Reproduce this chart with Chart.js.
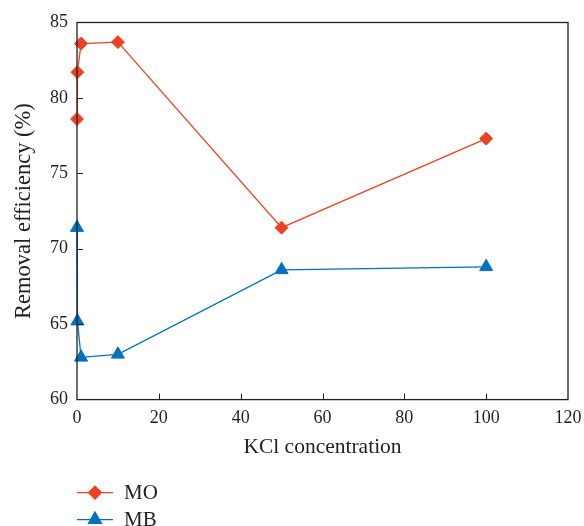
<!DOCTYPE html>
<html>
<head>
<meta charset="utf-8">
<script src="https://cdn.jsdelivr.net/npm/chart.js@4"></script>
<style>
  html, body { margin: 0; padding: 0; background: #ffffff; }
  #wrap { width: 584px; height: 526px; position: relative; }
</style>
</head>
<body>
<div id="wrap"><canvas id="c" width="584" height="526"></canvas></div>
<script>
const kclConcentration = [0, 0.1, 1, 10, 50, 100];
const moValues = [78.6, 81.7, 83.6, 83.7, 71.4, 77.3];
const mbValues = [71.4, 65.2, 62.8, 63.0, 68.6, 68.8];
const seriesNames = ['MO', 'MB'];
const xTicks = [0, 20, 40, 60, 80, 100, 120];
const yTicks = [60, 65, 70, 75, 80, 85];
const xTitle = 'KCl concentration';
const yTitle = 'Removal efficiency (%)';

const RED = '#EE4124';
const BLUE = '#0070C0';
const INK = '#231F20';
const FONT = "'Liberation Serif', 'Times New Roman', serif";

const toPoints = (xs, ys) => xs.map((x, i) => ({ x: x, y: ys[i] }));

const framePlugin = {
  id: 'frame',
  afterDraw(chart) {
    const ctx = chart.ctx;
    const a = chart.chartArea;
    const xs = chart.scales.x, ys = chart.scales.y;
    ctx.save();
    ctx.strokeStyle = INK;
    ctx.lineWidth = 1.3;
    ctx.strokeRect(a.left, a.top, a.right - a.left, a.bottom - a.top);
    ctx.lineWidth = 1;
    const tl = 6;
    xTicks.forEach(v => {
      if (v === xs.min || v === xs.max) return;
      const px = Math.round(xs.getPixelForValue(v)) + 0.5;
      ctx.beginPath(); ctx.moveTo(px, a.bottom); ctx.lineTo(px, a.bottom - tl); ctx.stroke();
    });
    yTicks.forEach(v => {
      if (v === ys.min || v === ys.max) return;
      const py = Math.round(ys.getPixelForValue(v)) + 0.5;
      ctx.beginPath(); ctx.moveTo(a.left, py); ctx.lineTo(a.left + tl, py); ctx.stroke();
    });
    // legend
    chart.data.datasets.forEach((ds, i) => {
      const y = a.bottom + 93 + i * 27;
      const x0 = a.left;
      ctx.strokeStyle = ds.borderColor;
      ctx.lineWidth = 1.3;
      ctx.beginPath(); ctx.moveTo(x0, y); ctx.lineTo(x0 + 36, y); ctx.stroke();
      ctx.fillStyle = ds.pointBackgroundColor;
      ctx.strokeStyle = ds.pointBorderColor;
      Chart.helpers.drawPoint(ctx, { pointStyle: ds.pointStyle, radius: ds.pointRadius, borderWidth: 1 }, x0 + 18, y);
      ctx.fillStyle = INK;
      ctx.font = '21px ' + FONT;
      ctx.textBaseline = 'middle';
      ctx.textAlign = 'left';
      ctx.fillText(ds.label, x0 + 47, y + 1);
    });
    ctx.restore();
  }
};

new Chart(document.getElementById('c'), {
  type: 'line',
  data: {
    datasets: [
      {
        label: seriesNames[0],
        data: toPoints(kclConcentration, moValues),
        borderColor: RED,
        backgroundColor: RED,
        pointBackgroundColor: RED,
        pointBorderColor: RED,
        pointStyle: 'rectRot',
        pointRadius: 6.5,
        pointBorderWidth: 1,
        borderWidth: 1.3,
        tension: 0,
        clip: false
      },
      {
        label: seriesNames[1],
        data: toPoints(kclConcentration, mbValues),
        borderColor: BLUE,
        backgroundColor: BLUE,
        pointBackgroundColor: BLUE,
        pointBorderColor: BLUE,
        pointStyle: 'triangle',
        pointRadius: 7.5,
        pointBorderWidth: 1,
        borderWidth: 1.3,
        tension: 0,
        clip: false
      }
    ]
  },
  options: {
    responsive: false,
    animation: false,
    devicePixelRatio: 1,
    layout: { padding: { left: 0, top: 22.5, right: 16, bottom: 66 } },
    plugins: { legend: { display: false }, tooltip: { enabled: false } },
    scales: {
      x: {
        type: 'linear',
        min: xTicks[0],
        max: xTicks[xTicks.length - 1],
        afterBuildTicks: s => { s.ticks = xTicks.map(v => ({ value: v })); },
        afterFit: s => { s.paddingRight = 0; s.paddingLeft = 0; },
        grid: { display: false, drawTicks: false },
        border: { display: false },
        ticks: { color: INK, padding: 8, font: { family: FONT, size: 18 }, maxRotation: 0, autoSkip: false },
        title: { display: true, text: xTitle, color: INK, font: { family: FONT, size: 21.5 }, padding: { top: -3, bottom: 0 } }
      },
      y: {
        type: 'linear',
        min: yTicks[0],
        max: yTicks[yTicks.length - 1],
        afterBuildTicks: s => { s.ticks = yTicks.map(v => ({ value: v })); },
        afterFit: s => { s.width = 77; },
        grid: { display: false, drawTicks: false },
        border: { display: false },
        ticks: { color: INK, padding: 9, font: { family: FONT, size: 18 } },
        title: { display: true, text: yTitle, color: INK, font: { family: FONT, size: 22.5 }, padding: { top: 10.5, bottom: 0 } }
      }
    }
  },
  plugins: [framePlugin]
});
</script>
</body>
</html>
